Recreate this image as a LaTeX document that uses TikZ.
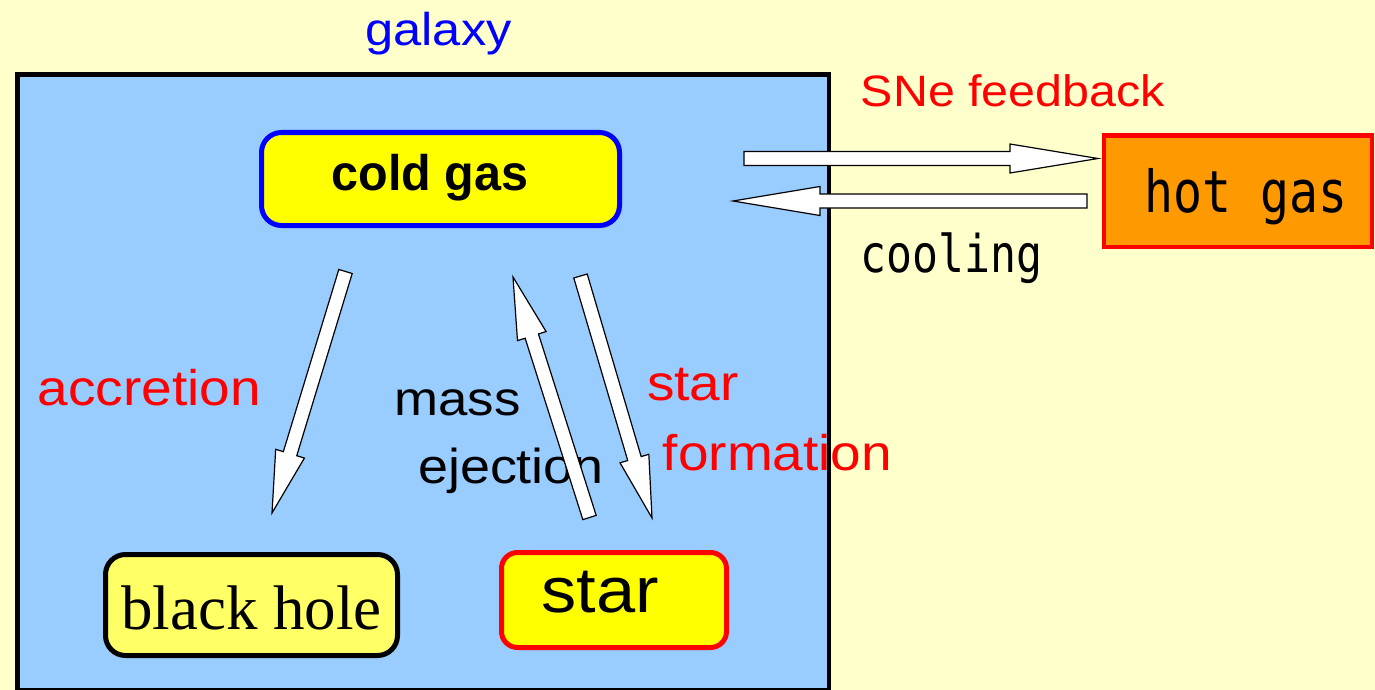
\documentclass[tikz,border=0pt]{standalone}
\usepackage{fontspec}
\setmainfont{Liberation Serif}
\newfontfamily\jsans[FakeStretch=1.1]{Liberation Sans}
\newfontfamily\jsansb[FakeStretch=0.97]{Liberation Sans}
\newfontfamily\jmono[FakeStretch=0.83]{DejaVu Sans Mono}
\usetikzlibrary{calc}
\definecolor{bgyellow}{HTML}{FFFFCC}
\definecolor{galblue}{HTML}{99CCFF}
\definecolor{boxyellow}{HTML}{FFFF00}
\definecolor{paleyellow}{HTML}{FFFF66}
\definecolor{hotorange}{HTML}{FF9900}
\tikzset{
  barrow/.style={draw=black, fill=white, line width=1.2pt, line join=miter},
  gbox/.style={draw, line width=5pt, rounded corners=20pt, inner sep=0pt},
  lbl/.style={anchor=base, inner sep=0pt},
}
\newcommand\blockarr[5]{%
  \draw[barrow] let \p1=(#1), \p2=(#2), \n1={atan2(\y2-\y1,\x2-\x1)} in
    ($(\p1)+(\n1+90:#4)$)
    -- ($(\p2)+(\n1+180:#3)+(\n1+90:#4)$)
    -- ($(\p2)+(\n1+180:#3)+(\n1+90:#5)$)
    -- (\p2)
    -- ($(\p2)+(\n1+180:#3)+(\n1-90:#5)$)
    -- ($(\p2)+(\n1+180:#3)+(\n1-90:#4)$)
    -- ($(\p1)+(\n1-90:#4)$) -- cycle;}
\begin{document}
\begin{tikzpicture}[x=1pt,y=-1pt]
\useasboundingbox (0,0) rectangle (1375,690);
\fill[bgyellow] (0,0) rectangle (1375,690);
% galaxy region
\draw[line width=4.5pt, fill=galblue] (17.5,74.5) rectangle (829,690);

% labels
\node[lbl, text=blue, font=\jsans\fontsize{46}{50}\selectfont] (galaxy) at (438.5,46) {galaxy};
\node[lbl, text=red, font=\jsans\fontsize{44}{50}\selectfont] (sne) at (1013,107) {SNe feedback};
\node[lbl, text=black, font=\jmono\fontsize{52}{56}\selectfont] (cooling) at (951.5,272) {cooling};
\node[lbl, text=red, font=\jsans\fontsize{50}{56}\selectfont] (accr) at (149.5,405) {accretion};
\node[lbl, text=black, font=\jsans\fontsize{48}{54}\selectfont] (mass) at (457.5,415) {mass};
\node[lbl, text=black, font=\jsans\fontsize{49}{54}\selectfont] (eject) at (511,483) {ejection};
\node[lbl, text=red, font=\jsans\fontsize{50}{56}\selectfont] (sfa) at (693,400) {star};
\node[lbl, text=red, font=\jsans\fontsize{50}{56}\selectfont] (sfb) at (777.5,470) {formation};

% arrow end points
\coordinate (fbS) at (744,158.5);  \coordinate (fbE) at (1098,158.5);
\coordinate (coS) at (1087,201);   \coordinate (coE) at (733,201);
\coordinate (acS) at (345.5,271.5); \coordinate (acE) at (272,513);
\coordinate (meS) at (589.5,517.5); \coordinate (meE) at (513,277);
\coordinate (sfS) at (580.5,276);  \coordinate (sfE) at (652,518);

\blockarr{fbS}{fbE}{88pt}{7pt}{14.5pt}
\blockarr{coS}{coE}{87pt}{7pt}{14.5pt}
\blockarr{acS}{acE}{62pt}{7pt}{15pt}
\blockarr{meS}{meE}{62pt}{7pt}{15pt}
\blockarr{sfS}{sfE}{62pt}{7pt}{15pt}

% boxes
\node[gbox, draw=blue, fill=boxyellow, minimum width=358pt, minimum height=93pt,
      text height=34pt, text depth=12pt, font=\jsansb\bfseries\fontsize{50}{56}\selectfont]
      (cold) at (440.5,179) {\hspace*{-21pt}cold gas};
\node[draw=red, fill=hotorange, line width=4.5pt, inner sep=0pt, minimum width=268pt, minimum height=111.5pt,
      text height=44pt, text depth=2pt, font=\jmono\fontsize{58}{62}\selectfont]
      (hot) at (1238,191.25) {\hspace*{16pt}hot gas};
\node[gbox, draw=black, fill=paleyellow, minimum width=292pt, minimum height=101pt,
      text height=48pt, text depth=0pt, font=\fontsize{63}{68}\selectfont]
      (bh) at (251.5,605) {black hole};
\node[gbox, draw=red, fill=boxyellow, rounded corners=16pt, minimum width=225pt, minimum height=95pt,
      text height=30pt, text depth=6pt, font=\jsans\fontsize{64}{70}\selectfont]
      (star) at (614,600) {\hspace*{-28pt}star};
\end{tikzpicture}
\end{document}
